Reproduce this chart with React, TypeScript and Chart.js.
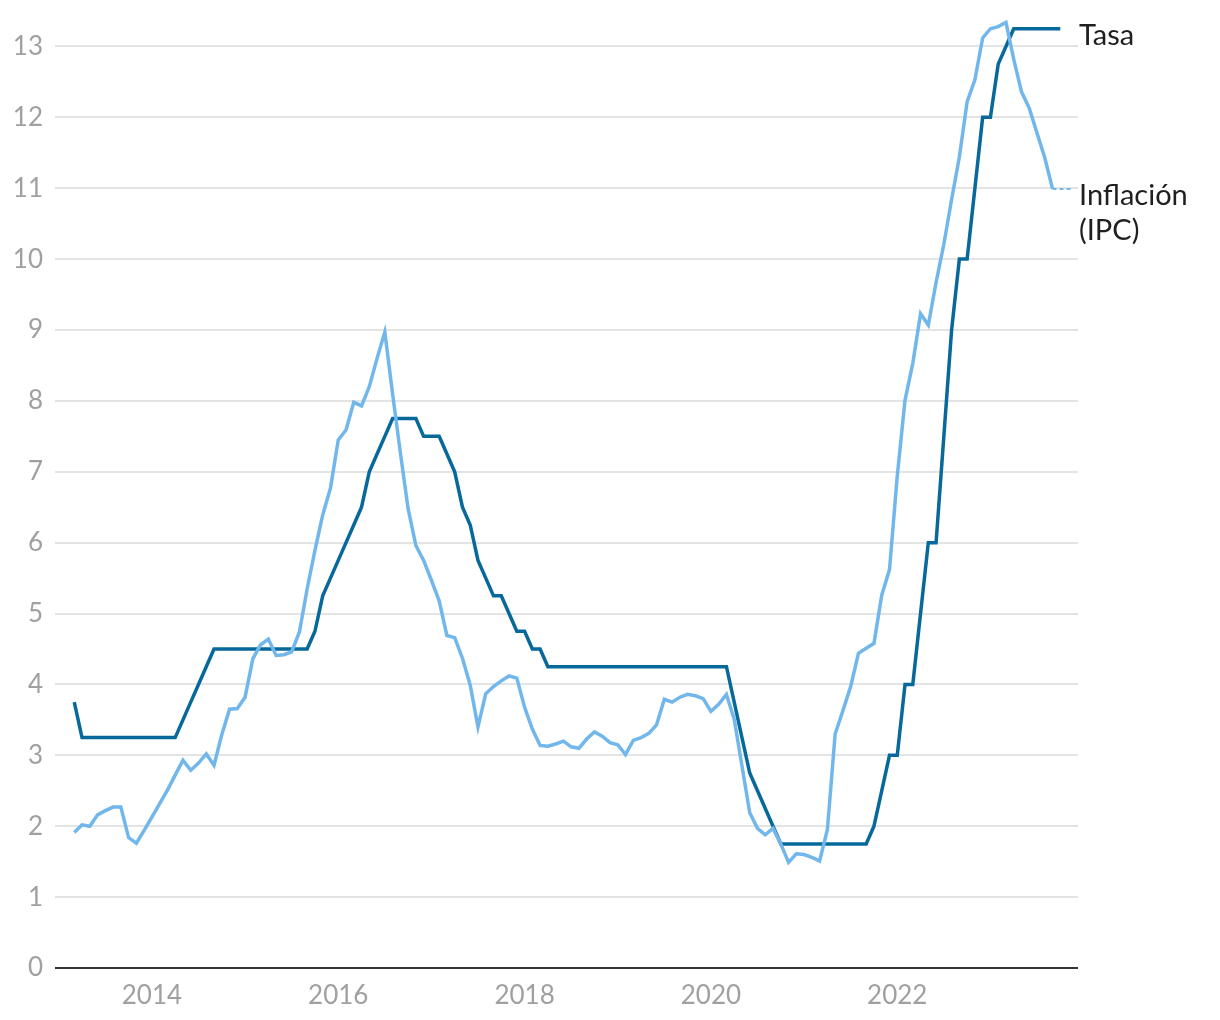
import React, { useEffect, useRef } from "react";
import { Chart, registerables } from "chart.js";

Chart.register(...registerables);

// Monthly observations, first day of each month, starting March 2013
const startYear = 2013;
const startMonth = 3;

// Policy rate (Tasa), Mar 2013 – Oct 2023
const tasa2013 = [3.75, 3.25, 3.25, 3.25, 3.25, 3.25, 3.25, 3.25, 3.25, 3.25];
const tasa2014 = [3.25, 3.25, 3.25, 3.25, 3.5, 3.75, 4.0, 4.25, 4.5, 4.5, 4.5, 4.5];
const tasa2015 = [4.5, 4.5, 4.5, 4.5, 4.5, 4.5, 4.5, 4.5, 4.5, 4.75, 5.25, 5.5];
const tasa2016 = [5.75, 6.0, 6.25, 6.5, 7.0, 7.25, 7.5, 7.75, 7.75, 7.75, 7.75, 7.5];
const tasa2017 = [7.5, 7.5, 7.25, 7.0, 6.5, 6.25, 5.75, 5.5, 5.25, 5.25, 5.0, 4.75];
const tasa2018 = [4.75, 4.5, 4.5, 4.25, 4.25, 4.25, 4.25, 4.25, 4.25, 4.25, 4.25, 4.25];
const tasa2019 = [4.25, 4.25, 4.25, 4.25, 4.25, 4.25, 4.25, 4.25, 4.25, 4.25, 4.25, 4.25];
const tasa2020 = [4.25, 4.25, 4.25, 3.75, 3.25, 2.75, 2.5, 2.25, 2.0, 1.75, 1.75, 1.75];
const tasa2021 = [1.75, 1.75, 1.75, 1.75, 1.75, 1.75, 1.75, 1.75, 1.75, 2.0, 2.5, 3.0];
const tasa2022 = [3.0, 4.0, 4.0, 5.0, 6.0, 6.0, 7.5, 9.0, 10.0, 10.0, 11.0, 12.0];
const tasa2023 = [12.0, 12.75, 13.0, 13.25, 13.25, 13.25, 13.25, 13.25, 13.25, 13.25];

// Inflation (IPC, annual %), Mar 2013 – Sep 2023
const ipc2013 = [1.91, 2.02, 2.0, 2.16, 2.22, 2.27, 2.27, 1.84, 1.76, 1.94];
const ipc2014 = [2.13, 2.32, 2.51, 2.72, 2.93, 2.79, 2.89, 3.02, 2.86, 3.29, 3.65, 3.66];
const ipc2015 = [3.82, 4.36, 4.56, 4.64, 4.41, 4.42, 4.46, 4.74, 5.35, 5.89, 6.39, 6.77];
const ipc2016 = [7.45, 7.59, 7.98, 7.93, 8.2, 8.6, 8.97, 8.1, 7.27, 6.48, 5.96, 5.75];
const ipc2017 = [5.47, 5.18, 4.69, 4.66, 4.37, 3.99, 3.4, 3.87, 3.97, 4.05, 4.12, 4.09];
const ipc2018 = [3.68, 3.37, 3.14, 3.13, 3.16, 3.2, 3.12, 3.1, 3.23, 3.33, 3.27, 3.18];
const ipc2019 = [3.15, 3.01, 3.21, 3.25, 3.31, 3.43, 3.79, 3.75, 3.82, 3.86, 3.84, 3.8];
const ipc2020 = [3.62, 3.72, 3.86, 3.51, 2.85, 2.19, 1.97, 1.88, 1.97, 1.75, 1.49, 1.61];
const ipc2021 = [1.6, 1.56, 1.51, 1.95, 3.3, 3.63, 3.97, 4.44, 4.51, 4.58, 5.26, 5.62];
const ipc2022 = [6.94, 8.01, 8.53, 9.23, 9.07, 9.67, 10.21, 10.84, 11.44, 12.22, 12.53, 13.12];
const ipc2023 = [13.25, 13.28, 13.34, 12.82, 12.36, 12.13, 11.78, 11.43, 10.99];

const tasaValues = [
  ...tasa2013, ...tasa2014, ...tasa2015, ...tasa2016, ...tasa2017, ...tasa2018,
  ...tasa2019, ...tasa2020, ...tasa2021, ...tasa2022, ...tasa2023,
];
const ipcValues = [
  ...ipc2013, ...ipc2014, ...ipc2015, ...ipc2016, ...ipc2017, ...ipc2018,
  ...ipc2019, ...ipc2020, ...ipc2021, ...ipc2022, ...ipc2023,
];

// Month categories as "YYYY-MM"
const months = tasaValues.map((_, i) => {
  const m = startMonth - 1 + i;
  const y = startYear + Math.floor(m / 12);
  return `${y}-${String((m % 12) + 1).padStart(2, "0")}`;
});

const xTickYears = [2014, 2016, 2018, 2020, 2022];
const yTickValues = [0, 1, 2, 3, 4, 5, 6, 7, 8, 9, 10, 11, 12, 13];
const xMin = 2012.96;
const xMax = 2023.94;
const leaderEnd = 2023.88;
const seriesLabels = { tasa: "Tasa", ipc: ["Inflación", "(IPC)"] };

const TASA_COLOR = "#07699b";
const IPC_COLOR = "#72b7ec";

const toX = (label: string) => {
  const [y, m] = label.split("-").map(Number);
  return y + (m - 1) / 12;
};

export default function App() {
  const canvasRef = useRef<HTMLCanvasElement | null>(null);

  useEffect(() => {
    const canvas = canvasRef.current;
    if (!canvas) return;

    const tasaData = tasaValues.map((v, i) => ({ x: toX(months[i]), y: v }));
    const ipcData = ipcValues.map((v, i) => ({ x: toX(months[i]), y: v }));
    const lastIpc = ipcData[ipcData.length - 1];
    const leaderData = [
      { x: lastIpc.x, y: lastIpc.y },
      { x: leaderEnd, y: lastIpc.y },
    ];

    const labelPlugin = {
      id: "endLabels",
      afterDraw(chart: any) {
        const { ctx, chartArea, scales } = chart;
        const ys = scales.y;
        const x = chartArea.right + 1;
        ctx.save();
        ctx.font = "29px Lato";
        ctx.fillStyle = "#1f1f1f";
        ctx.textAlign = "left";
        ctx.textBaseline = "alphabetic";
        const tY = ys.getPixelForValue(tasaValues[tasaValues.length - 1]) + 16;
        ctx.fillText(seriesLabels.tasa, x, tY);
        const iY = ys.getPixelForValue(lastIpc.y) + 16;
        ctx.fillText(seriesLabels.ipc[0], x, iY);
        ctx.fillText(seriesLabels.ipc[1], x, iY + 35);
        ctx.restore();
      },
    };

    const chart = new Chart(canvas, {
      type: "line",
      data: {
        datasets: [
          {
            label: "Inflación (IPC)",
            data: ipcData,
            borderColor: IPC_COLOR,
            borderWidth: 3.5,
            pointRadius: 0,
            tension: 0,
            fill: false,
          },
          {
            label: "leader",
            data: leaderData,
            borderColor: IPC_COLOR,
            borderWidth: 2,
            borderDash: [4, 3],
            pointRadius: 0,
            fill: false,
          },
          {
            label: "Tasa",
            data: tasaData,
            borderColor: TASA_COLOR,
            borderWidth: 3.5,
            pointRadius: 0,
            tension: 0,
            fill: false,
          },
        ],
      },
      options: {
        animation: false,
        responsive: false,
        maintainAspectRatio: false,
        events: [],
        layout: { padding: { top: 11, right: 142, bottom: 0, left: 0 } },
        plugins: {
          legend: { display: false },
          tooltip: { enabled: false },
        },
        scales: {
          x: {
            type: "linear",
            min: xMin,
            max: xMax,
            grid: { display: false, drawTicks: false },
            border: { display: false },
            afterBuildTicks: (scale: any) => {
              scale.ticks = xTickYears.map((v) => ({ value: v }));
            },
            afterFit: (scale: any) => {
              scale.height = 52;
              scale.paddingLeft = 0;
              scale.paddingRight = 0;
            },
            ticks: {
              padding: 12,
              maxRotation: 0,
              autoSkip: false,
              color: "#a0a0a0",
              font: { family: "Lato", size: 26 },
              callback: (v: any) => String(v),
            },
          },
          y: {
            type: "linear",
            min: 0,
            max: 13.5,
            border: { display: false },
            grid: {
              drawTicks: false,
              lineWidth: 2,
              color: (ctx: any) => (ctx.tick && ctx.tick.value === 0 ? "#333333" : "#e4e4e4"),
            },
            afterBuildTicks: (scale: any) => {
              scale.ticks = yTickValues.map((v) => ({ value: v }));
            },
            afterFit: (scale: any) => {
              scale.width = 55;
              scale.paddingTop = 0;
              scale.paddingBottom = 0;
            },
            ticks: {
              padding: 12,
              color: "#a0a0a0",
              font: { family: "Lato", size: 26 },
              callback: (v: any) => String(v),
            },
          },
        },
      },
      plugins: [labelPlugin],
    });

    return () => {
      chart.destroy();
    };
  }, []);

  return (
    <div style={{ position: "absolute", left: 0, top: 0, width: 1220, height: 1020, background: "#ffffff" }}>
      <canvas ref={canvasRef} width={1220} height={1020} style={{ display: "block" }} />
    </div>
  );
}
